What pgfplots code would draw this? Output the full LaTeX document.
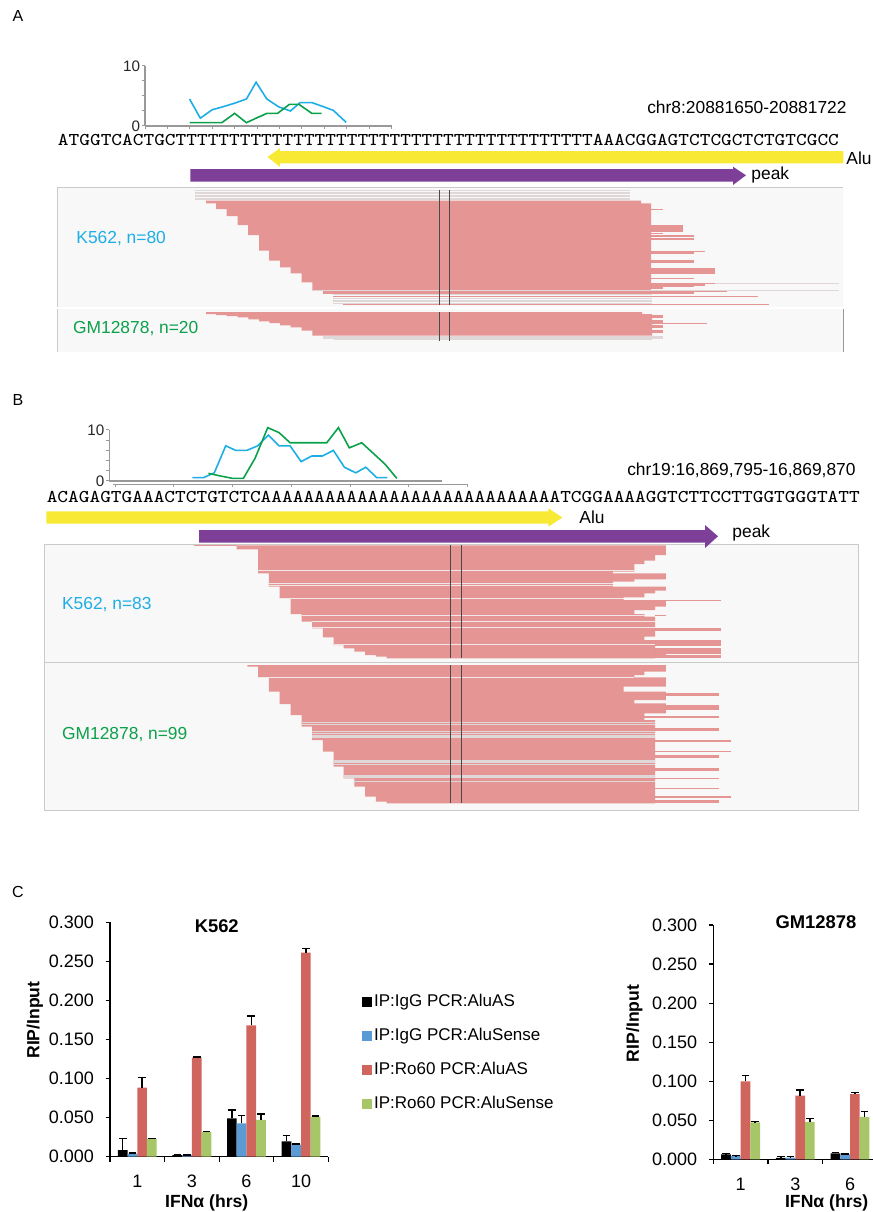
\documentclass[border=0pt]{standalone}
\usepackage{fontspec}
\setmainfont{Liberation Sans}
\usepackage{graphicx}
\usepackage{pgfplots}
\usepackage{pgfplotstable}
\pgfplotsset{compat=1.18}

\definecolor{readpink}{HTML}{E59694}
\definecolor{readgray}{HTML}{E0D8D8}
\definecolor{sepgray}{HTML}{F0E8E8}
\definecolor{boxfill}{HTML}{F8F8F8}
\definecolor{boxline}{HTML}{CACACA}
\definecolor{vline}{HTML}{4A4A4A}
\definecolor{kblue}{HTML}{1EAEE6}
\definecolor{ggreen}{HTML}{0BA14B}
\definecolor{aluyellow}{HTML}{F8E935}
\definecolor{peakpurple}{HTML}{7D3F97}
\definecolor{minigray}{HTML}{999999}
\definecolor{barblue}{HTML}{5B9BD5}
\definecolor{barred}{HTML}{D0655E}
\definecolor{bargreen}{HTML}{A7C667}

\newcommand\lab{\fontsize{8.7}{10}\selectfont}
\newcommand\seqtext[1]{\scalebox{1.132}[1]{\fontsize{9}{10}\ttfamily\selectfont #1}}

\pgfplotsset{
 reads/.style n args={2}{only marks, mark=none, mark size=0pt,
   mark options={draw=none, fill=none},
   error bars/x dir=plus, error bars/x explicit, error bars/error mark=none,
   error bars/error bar style={draw=#1, line width=#2}},
}

% ---------- read extensions (y, start, end in picture units) ----------
\pgfplotstableread{
y a b
209.5 651 662.7
225.8 651 683.3
227.3 651 683.3
228.8 651 683.3
230.3 651 683.3
231.6 651 683.3
233.2 651 662.7
235.2 651 694.3
236.7 651 694.3
238.2 651 694.3
239.7 651 694.3
251.5 651 705.3
253.0 651 694.3
261.0 651 694.3
262.5 651 694.3
268.8 651 715.3
270.3 651 715.3
271.8 651 715.3
273.3 651 715.3
278.5 651 694.3
283.4 651 715.3
284.9 651 705.3
286.4 651 694.3
288.0 651 662.7
291.5 322.7 726.7
293.0 322.7 694.3
296.7 333.3 757.7
304.2 343.3 768.7
315.5 652 663.3
317.0 652 663.3
320.5 652 663.3
322.0 652 663.3
323.4 652 706.7
326.0 652 663.3
327.5 652 663.3
330.8 652 663.3
332.5 652 663.3
545.3 194.2 236.6
600.5 665.9 720.5
615.5 655.1 665.9
628.5 655.1 720.5
629.8 655.1 720.5
640.8 655.1 720.5
642.2 655.1 720.5
644.0 655.1 720.5
645.5 655.1 720.5
649.0 655.1 720.5
651.0 655.1 720.5
652.8 655.1 720.5
654.5 655.1 665.9
655.8 655.1 720.5
657.4 655.1 720.5
693.5 665.9 719.4
695.0 665.9 719.4
705.5 665.9 719.4
707.0 665.9 719.4
709.0 665.9 719.4
716.2 644.4 719.4
717.7 644.4 719.4
728.5 655.1 719.4
730.0 655.1 719.4
741.0 655.1 730.5
751.7 655.1 730.5
755.3 655.1 719.4
756.8 655.1 719.4
768.5 655.1 719.4
770.0 655.1 719.4
778.3 655.1 719.4
788.3 655.1 719.4
797.0 655.1 730.5
800.3 655.1 719.4
801.8 655.1 719.4
}\extreads

\pgfplotstableread{
y a b
190.8 195 630
192.3 195 630
193.8 195 630
195.3 195 630
196.8 195 630
198.3 195 630
199.8 195 630
294.8 333.3 652
298.5 333.3 652
300.1 333.3 652
301.7 333.3 652
303.2 333.3 652
336.5 323.3 663.3
338.0 323.3 663.3
339.6 334.0 652.3
722.7 301.6 655.1
724.4 301.6 655.1
731.7 312 655.1
733.4 312 655.1
735.1 312 655.1
737.0 312 655.1
760.2 333.5 655.1
762.0 333.5 655.1
764.4 333.5 655.1
775.3 343.6 655.1
777.0 343.6 655.1
781.7 354.3 655.1
}\grayreads

\pgfplotstableread{
y a b
570.0 258.1 634.3
583.3 268.9 612.8
585.7 268.9 612.8
598.3 279.7 623.5
615.2 301.6 644.4
621.9 312 655.1
627.3 312 655.1
644.0 333.5 655.1
677.3 258.1 634.3
}\sepreads

\pgfplotstableread{
y a b
290.3 312.3 839
283.0 715.3 839
}\longgray

% ---------- bar chart data ----------
\pgfplotstableread{
x a ae b be c ce d de
0 0.0085 0.0150 0.0038 0.0012 0.0883 0.0133 0.0230 0.0005
1 0.0020 0.0006 0.0020 0.0004 0.1267 0.0009 0.0316 0.0008
2 0.0490 0.0107 0.0427 0.0098 0.1680 0.0120 0.0470 0.0076
3 0.0196 0.0077 0.0154 0.0008 0.2612 0.0051 0.0512 0.0008
}\kdata

\pgfplotstableread{
x a ae b be c ce d de
0 0.0064 0.0008 0.0043 0.0004 0.0999 0.0072 0.0474 0.0008
1 0.0017 0.0021 0.0021 0.0017 0.0815 0.0073 0.0478 0.0042
2 0.0077 0.0013 0.0064 0.0004 0.0836 0.0022 0.0542 0.0073
}\gdata

\pgfplotsset{
 barax/.style={scale only axis, ymin=0, ymax=0.3, xmin=-0.5,
   ybar=0pt, bar width=4.85pt, clip=false,
   axis x line*=bottom, axis y line*=left,
   axis line style={black, line width=0.6pt},
   xtick={0,1,2,3}, major x tick style={draw=none},
   minor xtick={-0.5,0.5,1.5,2.5,3.5}, minor tick length=2.5pt,
   ytick={0,0.05,0.1,0.15,0.2,0.25,0.3}, major tick length=2pt,
   tick style={black, line width=0.6pt}, tick align=outside,
   /pgf/number format/assume math mode=true,
   scaled y ticks=false,
   ticklabel style={font=\fontsize{9}{10}\selectfont},
   yticklabel style={xshift=-2.5pt, /pgf/number format/fixed, /pgf/number format/fixed zerofill, /pgf/number format/precision=3},
   xticklabel style={yshift=-3.8pt},
   ylabel={RIP/Input}, xlabel={IFNα (hrs)},
   label style={font=\fontsize{8.8}{10}\selectfont\bfseries},
   title style={font=\fontsize{9.2}{10}\selectfont\bfseries, anchor=center},
   error bars/y dir=plus, error bars/y explicit,
   error bars/error mark=|,
   error bars/error bar style={black, line width=0.75pt},
   error bars/error mark options={black, mark size=1.9pt, line width=0.75pt},
 },
 miniax/.style={scale only axis, ymin=0, ymax=10, clip=false,
   axis x line*=bottom, axis y line*=left,
   axis line style={minigray, line width=0.65pt},
   ytick={0,10}, tick align=outside, major tick length=1.5pt, minor tick length=1.5pt,
   tick style={minigray, line width=0.5pt},
   /pgf/number format/assume math mode=true,
   yticklabel style={font=\fontsize{7.6}{8}\selectfont, text=black!85, inner sep=0.8pt},
 },
}

\begin{document}
\begin{tikzpicture}
% ================= canvas in picture units =================
\begin{axis}[at={(0pt,0pt)}, anchor=south west, scale only axis,
  width=436.5pt, height=606pt, xmin=0, xmax=873, ymin=0, ymax=1212,
  y dir=reverse, hide axis, clip=false]
% boxes
\addplot[fill=boxfill, draw=none] coordinates {(57.3,187.3) (843,187.3) (843,306.5) (57.3,306.5) (57.3,187.3)};
\addplot[boxline, line width=0.5pt] coordinates {(57.3,306.5) (57.3,187.3) (843,187.3)};
\addplot[fill=boxfill, draw=none] coordinates {(57.3,309) (843,309) (843,352.2) (57.3,352.2) (57.3,309)};
\addplot[boxline, line width=0.5pt] coordinates {(57.3,352.2) (57.3,309)};
\addplot[black!40, line width=0.5pt] coordinates {(843.5,309) (843.5,352.2)};
\addplot[fill=boxfill, draw=boxline, line width=0.5pt] coordinates {(44.3,544.5) (858,544.5) (858,662.4) (44.3,662.4) (44.3,544.5)};
\addplot[fill=boxfill, draw=boxline, line width=0.5pt] coordinates {(44.3,662.4) (858,662.4) (858,810.7) (44.3,810.7) (44.3,662.4)};

% read bodies
\addplot[fill=readpink, draw=none] coordinates {(206,200.7) (641,200.7) (641,203.3) (651,203.3) (651,290) (312.3,290) (312.3,282.3) (301.7,282.3) (301.7,273.3) (290.7,273.3) (290.7,267.3) (280,267.3) (280,260.7) (269,260.7) (269,250.7) (259,250.7) (259,235) (248,235) (248,225) (237.7,225) (237.7,216) (226.7,216) (226.7,209) (216,209) (216,203.3) (206,203.3) (206,200.7)};
\addplot[fill=readpink, draw=none] coordinates {(206,312) (642,312) (642,314) (652,314) (652,335.7) (312.3,335.7) (312.3,330.7) (301.7,330.7) (301.7,327.3) (290.7,327.3) (290.7,325.3) (280,325.3) (280,323) (269.3,323) (269.3,321.3) (259,321.3) (259,319.3) (248.3,319.3) (248.3,317.3) (237.7,317.3) (237.7,316) (226.7,316) (226.7,315) (216,315) (216,314) (206,314) (206,312)};
\addplot[fill=readpink, draw=none] coordinates {(236.6,545.3) (665.9,545.3) (665.9,555) (655.1,555) (655.1,560.7) (644.4,560.7) (644.4,564) (634.3,564) (634.3,571.7) (612.8,571.7) (612.8,573.3) (665.9,573.3) (665.9,579.3) (634.3,579.3) (634.3,581.7) (612.8,581.7) (612.8,586.7) (665.9,586.7) (665.9,590.7) (655.1,590.7) (655.1,593.3) (644.4,593.3) (644.4,597.3) (623.5,597.3) (623.5,600) (665.9,600) (665.9,606.7) (655.1,606.7) (655.1,610) (634.3,610) (634.3,614) (644.4,614) (644.4,616.7) (655.1,616.7) (655.1,636.7) (644.4,636.7) (644.4,640) (655.1,640) (655.1,658.3) (386.6,658.3) (386.6,656.7) (375.9,656.7) (375.9,655) (365.1,655) (365.1,651.7) (354.3,651.7) (354.3,648.3) (343.6,648.3) (343.6,645) (333.5,645) (333.5,637.3) (322.8,637.3) (322.8,628.3) (312,628.3) (312,621.7) (301.6,621.7) (301.6,614) (290.5,614) (290.5,598.3) (279.7,598.3) (279.7,586.7) (268.9,586.7) (268.9,573.3) (258.1,573.3) (258.1,549.3) (236.6,549.3) (236.6,545.3)};
\addplot[fill=readpink, draw=none] coordinates {(247.4,665) (665.9,665) (665.9,671.7) (644.4,671.7) (644.4,675) (634.3,675) (634.3,677.3) (665.9,677.3) (665.9,686.7) (623.5,686.7) (623.5,691.7) (665.9,691.7) (665.9,700) (634.3,700) (634.3,703.3) (665.9,703.3) (665.9,713.3) (644.4,713.3) (644.4,720) (655.1,720) (655.1,803.3) (386.6,803.3) (386.6,801.7) (375.9,801.7) (375.9,796.7) (365.1,796.7) (365.1,786.7) (354.3,786.7) (354.3,778.3) (343.6,778.3) (343.6,766.7) (333.5,766.7) (333.5,751.7) (322.8,751.7) (322.8,740) (312,740) (312,726.7) (301.6,726.7) (301.6,715) (290.5,715) (290.5,704) (279.7,704) (279.7,691.7) (268.9,691.7) (268.9,677.3) (258.1,677.3) (258.1,666.7) (247.4,666.7) (247.4,665)};

% single reads
\addplot[reads={readgray}{0.6pt}] table[x=a, y=y, x error expr=\thisrow{b}-\thisrow{a}] {\grayreads};
\addplot[reads={sepgray}{0.45pt}] table[x=a, y=y, x error expr=\thisrow{b}-\thisrow{a}] {\sepreads};
\addplot[reads={readgray}{0.35pt}] table[x=a, y=y, x error expr=\thisrow{b}-\thisrow{a}] {\longgray};
\addplot[reads={readpink}{0.7pt}] table[x=a, y=y, x error expr=\thisrow{b}-\thisrow{a}] {\extreads};

% position lines
\addplot[vline, line width=0.5pt] coordinates {(439.3,190) (439.3,304.7)};
\addplot[vline, line width=0.5pt] coordinates {(449.3,190) (449.3,304.7)};
\addplot[vline, line width=0.5pt] coordinates {(439.3,312) (439.3,340.7)};
\addplot[vline, line width=0.5pt] coordinates {(449.3,312) (449.3,340.7)};
\addplot[vline, line width=0.5pt] coordinates {(450.5,545) (450.5,658.3)};
\addplot[vline, line width=0.5pt] coordinates {(461.3,545) (461.3,658.3)};
\addplot[vline, line width=0.5pt] coordinates {(450.5,665) (450.5,803.3)};
\addplot[vline, line width=0.5pt] coordinates {(461.3,665) (461.3,803.3)};

% annotation arrows
\addplot[fill=aluyellow, draw=none] coordinates {(843.3,151) (279.8,151) (279.8,148.3) (267.5,157) (279.8,166.7) (279.8,163.3) (843.3,163.3) (843.3,151)};
\addplot[fill=peakpurple, draw=none] coordinates {(190.3,169) (733,169) (733,166.7) (746,175.3) (733,185) (733,181.7) (190.3,181.7) (190.3,169)};
\addplot[fill=aluyellow, draw=none] coordinates {(46.4,511.4) (548.4,511.4) (548.4,508.3) (562.4,517.5) (548.4,526.7) (548.4,523.6) (46.4,523.6) (46.4,511.4)};
\addplot[fill=peakpurple, draw=none] coordinates {(199,530) (705,530) (705,525) (718,536.3) (705,548) (705,542.6) (199,542.6) (199,530)};

% texts
\node[font=\fontsize{8}{9}\selectfont] at (axis cs:18,16) {A};
\node[font=\fontsize{8}{9}\selectfont] at (axis cs:18,400) {B};
\node[font=\fontsize{8}{9}\selectfont] at (axis cs:18,891.7) {C};
\node[anchor=east, inner sep=0pt, font=\lab] at (axis cs:847,107.5) {chr8:20881650-20881722};
\node[anchor=west, inner sep=0pt] at (axis cs:57.6,140) {\seqtext{ATGGTCACTGCTTTTTTTTTTTTTTTTTTTTTTTTTTTTTTTTTTTTTTTAAACGGAGTCTCGCTCTGTCGCC}};
\node[anchor=west, inner sep=0pt, font=\lab] at (axis cs:846,158) {Alu};
\node[anchor=west, inner sep=0pt, font=\lab] at (axis cs:751,175.3) {peak};
\node[anchor=west, inner sep=0pt, font=\lab, text=kblue] at (axis cs:76,239) {K562, n=80};
\node[anchor=west, inner sep=0pt, font=\lab, text=ggreen] at (axis cs:72.7,329) {GM12878, n=20};
\node[anchor=east, inner sep=0pt, font=\lab] at (axis cs:856,470) {chr19:16,869,795-16,869,870};
\node[anchor=west, inner sep=0pt] at (axis cs:46.4,496.7) {\seqtext{ACAGAGTGAAACTCTGTCTCAAAAAAAAAAAAAAAAAAAAAAAAAAAATCGGAAAAGGTCTTCCTTGGTGGGTATT}};
\node[anchor=west, inner sep=0pt, font=\lab] at (axis cs:579,517) {Alu};
\node[anchor=west, inner sep=0pt, font=\lab] at (axis cs:732,533.3) {peak};
\node[anchor=west, inner sep=0pt, font=\lab, text=kblue] at (axis cs:61.7,604.5) {K562, n=83};
\node[anchor=west, inner sep=0pt, font=\lab, text=ggreen] at (axis cs:61.7,735) {GM12878, n=99};
\end{axis}

% ================= coverage mini charts =================
\begin{axis}[miniax, at={(72.5pt,543pt)}, anchor=south west, width=123.35pt, height=30pt,
  xmin=8.145, xmax=31.14, xtick={8.145,10.235,...,31.2}, xticklabels={}, minor ytick={2.5,5,7.5}]
\addplot[kblue, line width=0.8pt] coordinates {(12.3,4.5) (13.3,1.3) (14.4,2.7) (15.4,3.2) (16.5,3.8) (17.6,4.5) (18.5,7.3) (19.5,4.5) (20.6,3.2) (21.7,2.5) (22.6,3.9) (23.7,3.9) (24.8,3.2) (25.7,2.6) (26.9,0.6)};
\addplot[ggreen, line width=0.8pt] coordinates {(12.3,0.55) (13.3,0.55) (14.4,0.55) (15.3,0.55) (16.5,2.1) (17.6,0.55) (18.5,1.3) (19.5,2.1) (20.5,2.1) (21.6,3.6) (22.5,3.6) (23.7,2.1) (24.6,2.1)};
\end{axis}

\begin{axis}[miniax, at={(54.65pt,365.5pt)}, anchor=south west, width=166.2pt, height=25.5pt,
  xmin=5.88, xmax=36.97, xtick=\empty, minor ytick={2,4,6,8},
  x axis line style={minigray, line width=1.3pt}]
\addplot[kblue, line width=0.8pt] coordinates {(13.65,0.65) (14.68,0.65) (15.7,1.6) (16.77,6.9) (17.71,6.0) (18.74,6.0) (19.77,6.9) (20.76,9.0) (21.76,6.9) (22.79,6.9) (23.82,3.8) (24.82,4.9) (25.81,4.9) (26.84,6.0) (27.87,2.7) (28.93,1.6) (29.87,2.7) (30.9,0.65) (31.89,0.65)};
\addplot[ggreen, line width=0.8pt] coordinates {(15.15,1.5) (16.24,1.0) (17.39,0.52) (18.42,0.52) (19.51,4.44) (20.7,10.46) (21.76,9.48) (22.79,7.5) (23.88,7.5) (25.13,7.5) (26.22,7.5) (27.31,10.46) (28.33,6.5) (29.49,7.5) (30.58,5.4) (31.67,3.3) (32.77,0.52)};
\end{axis}

\begin{axis}[scale only axis, at={(56.65pt,363.85pt)}, anchor=south west, width=177.5pt, height=2pt,
  xmin=6.26, xmax=39.47, ymin=0, ymax=1, axis x line*=bottom, axis y line=none,
  axis line style={minigray, line width=0.5pt}, xtick={6.42,11.92,...,39.5}, xticklabels={},
  ytick=\empty, tick align=outside, major tick length=1.3pt, tick style={minigray, line width=0.5pt}]
\addplot[draw=none] coordinates {(7,0.5)};
\end{axis}

% ================= panel C bar charts =================
\begin{axis}[barax, at={(55pt,27.65pt)}, anchor=south west, width=109.15pt, height=117.2pt,
  xmax=3.5, xticklabels={1,3,6,10},
  title={K562}, title style={at={(axis description cs:0.489,0.932)}},
  ylabel style={at={(axis description cs:-0.344,0.583)}, anchor=center},
  xlabel style={at={(axis description cs:0.443,-0.197)}, anchor=center},
  legend style={at={(axis description cs:1.153,0.705)}, anchor=north west, draw=none, fill=none,
    inner sep=0pt, row sep=7pt, font=\fontsize{8.5}{10}\selectfont, nodes={inner sep=1.2pt}},
  legend cell align=left,
  legend image code/.code={\fill[#1] (0pt,-2.4pt) rectangle (4.8pt,2.4pt);}]
\addplot[fill=black, draw=none] table[x=x, y=a, y error=ae] {\kdata};
\addplot[fill=barblue, draw=none] table[x=x, y=b, y error=be] {\kdata};
\addplot[fill=barred, draw=none] table[x=x, y=c, y error=ce] {\kdata};
\addplot[fill=bargreen, draw=none] table[x=x, y=d, y error=de] {\kdata};
\legend{IP:IgG PCR:AluAS, IP:IgG PCR:AluSense, IP:Ro60 PCR:AluAS, IP:Ro60 PCR:AluSense}
\end{axis}

\begin{axis}[barax, at={(356.65pt,26.35pt)}, anchor=south west, width=79.85pt, height=117.15pt,
  xmax=2.42, xtick={0,1,2}, minor xtick={-0.5,0.5,1.5}, xticklabels={1,3,6},
  title={GM12878}, title style={at={(axis description cs:0.643,0.96)}},
  ylabel style={at={(axis description cs:-0.495,0.58)}, anchor=center},
  xlabel style={at={(axis description cs:0.71,-0.186)}, anchor=center}]
\addplot[fill=black, draw=none] table[x=x, y=a, y error=ae] {\gdata};
\addplot[fill=barblue, draw=none] table[x=x, y=b, y error=be] {\gdata};
\addplot[fill=barred, draw=none] table[x=x, y=c, y error=ce] {\gdata};
\addplot[fill=bargreen, draw=none] table[x=x, y=d, y error=de] {\gdata};
\end{axis}

\pgfresetboundingbox
\path[use as bounding box] (0pt,0pt) rectangle (436.5pt,606pt);
\end{tikzpicture}
\end{document}
